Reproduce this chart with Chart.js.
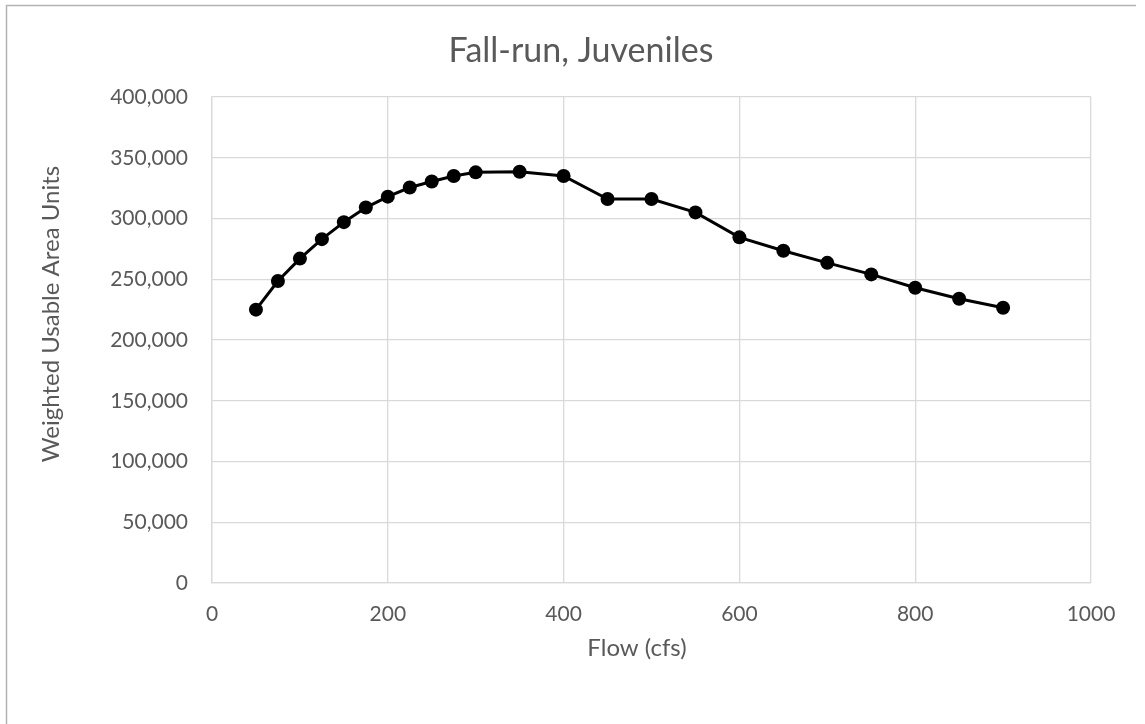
<!DOCTYPE html>
<html>
<head>
<meta charset="utf-8">
<script src="https://cdn.jsdelivr.net/npm/chart.js@4.4.0/dist/chart.umd.min.js"></script>
<style>
html,body{margin:0;padding:0;background:#fff;}
#wrap{width:1145px;height:724px;position:relative;}
canvas{display:block;}
</style>
</head>
<body>
<div id="wrap"><canvas id="c" width="1145" height="724"></canvas></div>
<script>
// ---- data ----
const flows = [50, 75, 100, 125, 150, 175, 200, 225, 250, 275, 300, 350, 400, 450, 500, 550, 600, 650, 700, 750, 800, 850, 900];
const wua = [225000, 248500, 267000, 283000, 297000, 309000, 318000, 325500, 330500, 335000, 338000, 338500, 335000, 316000, 316000, 305000, 284500, 273500, 263500, 254000, 243000, 234000, 226500];
const xTickValues = [0, 200, 400, 600, 800, 1000];
const yTickValues = [0, 50000, 100000, 150000, 200000, 250000, 300000, 350000, 400000];
const chartTitle = 'Fall-run, Juveniles';
const xAxisTitle = 'Flow (cfs)';
const yAxisTitle = 'Weighted Usable Area Units';

const FONT = 'Lato, "Open Sans", "DejaVu Sans", sans-serif';
const TEXT = '#595959';
const GRID = '#d9d9d9';

const points = flows.map((f, i) => ({ x: f, y: wua[i] }));

const decor = {
  id: 'decor',
  beforeDraw(chart) {
    const ctx = chart.ctx;
    ctx.save();
    ctx.fillStyle = '#ffffff';
    ctx.fillRect(0, 0, chart.width, chart.height);
    ctx.strokeStyle = '#b3b3b3';
    ctx.lineWidth = 1.5;
    ctx.beginPath();
    ctx.moveTo(6.5, 724);
    ctx.lineTo(6.5, 5.5);
    ctx.lineTo(1136, 5.5);
    ctx.stroke();
    ctx.restore();
  },
  afterDraw(chart) {
    const ctx = chart.ctx;
    ctx.save();
    ctx.fillStyle = TEXT;
    ctx.textAlign = 'center';
    ctx.textBaseline = 'middle';
    ctx.font = '34px ' + FONT;
    ctx.fillText(chartTitle, 581, 51);
    ctx.font = '24px ' + FONT;
    ctx.fillText(xAxisTitle, 637, 648);
    ctx.translate(51, 314);
    ctx.rotate(-Math.PI / 2);
    ctx.fillText(yAxisTitle, 0, 0);
    ctx.restore();
  }
};

new Chart(document.getElementById('c'), {
  type: 'line',
  data: {
    datasets: [{
      data: points,
      borderColor: '#000000',
      backgroundColor: '#000000',
      borderWidth: 3,
      pointRadius: 7,
      pointHoverRadius: 7,
      pointBackgroundColor: '#000000',
      pointBorderColor: '#000000',
      pointBorderWidth: 0,
      tension: 0,
      fill: false
    }]
  },
  options: {
    responsive: false,
    animation: false,
    devicePixelRatio: 1,
    layout: { padding: { top: 97, right: 54, bottom: 0, left: 0 } },
    plugins: {
      legend: { display: false },
      title: { display: false },
      tooltip: { enabled: false }
    },
    scales: {
      x: {
        type: 'linear',
        min: 0,
        max: 1000,
        afterBuildTicks(scale) { scale.ticks = xTickValues.map(v => ({ value: v })); },
        afterFit(scale) { scale.height = 724 - 583; },
        grid: { color: GRID, lineWidth: 1.3, drawTicks: false },
        border: { display: true, color: GRID, width: 1.3 },
        ticks: {
          color: TEXT,
          font: { family: FONT, size: 21 },
          padding: 19,
          maxRotation: 0,
          callback: v => String(v)
        }
      },
      y: {
        type: 'linear',
        min: 0,
        max: 400000,
        afterBuildTicks(scale) { scale.ticks = yTickValues.map(v => ({ value: v })); },
        afterFit(scale) { scale.width = 212; },
        grid: { color: GRID, lineWidth: 1.3, drawTicks: false },
        border: { display: true, color: GRID, width: 1.3 },
        ticks: {
          color: TEXT,
          font: { family: FONT, size: 21 },
          padding: 24,
          callback: v => Number(v).toLocaleString('en-US')
        }
      }
    }
  },
  plugins: [decor]
});
</script>
</body>
</html>
